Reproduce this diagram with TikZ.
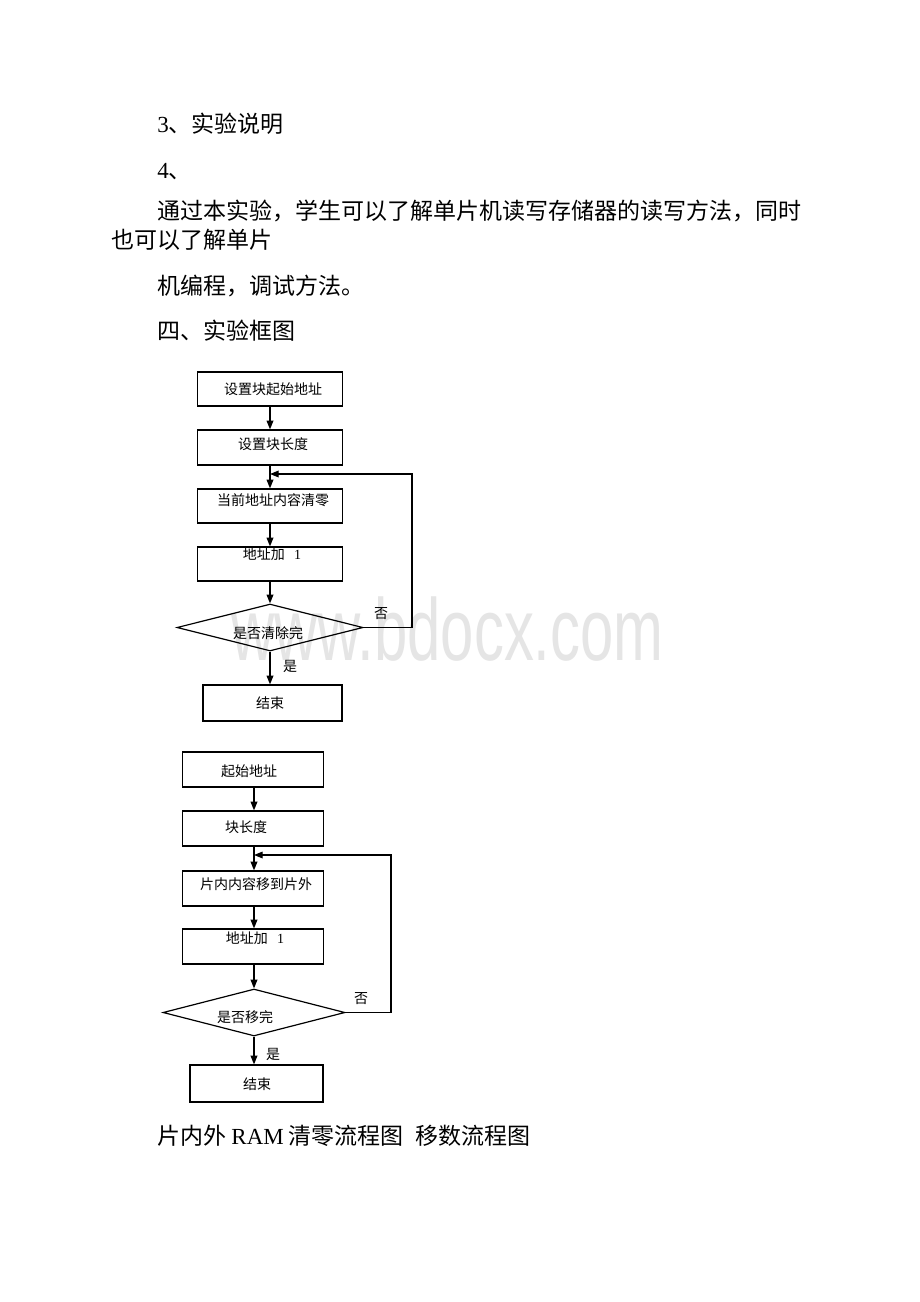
\documentclass[tikz,border=0pt]{standalone}
\usepackage{fontspec}
\setmainfont{Liberation Serif}
\newfontfamily\cjk{Noto Sans CJK SC}
\newfontfamily\wmfont{Liberation Sans}
\usetikzlibrary{shapes.geometric,arrows.meta}
\def\px{*0.75pt}
\begin{document}
\begin{tikzpicture}[x=0.75pt,y=-0.75pt,
  body/.style={anchor=west,inner sep=0pt,text height=0.88em,text depth=0.12em,font=\fontsize{17.25}{20}\selectfont\cjk},
  box/.style={draw,line width=1.2\px,minimum width=145\px,minimum height=34\px,inner sep=0pt},
  dia/.style={draw,diamond,line width=1.2\px,inner sep=0pt,aspect=4},
  lbl/.style={inner sep=0pt,text height=0.88em,text depth=0.12em,font=\fontsize{10.5}{12}\selectfont\cjk},
  arr/.style={line width=1.2\px,-{Triangle[length=6.5pt,width=5pt]}},
  wm/.style={anchor=base,inner sep=0pt,text=black!10,font=\fontsize{66}{70}\selectfont\wmfont}]
\useasboundingbox (0,0) rectangle (920,1302);
\fill[white] (0,0) rectangle (920,1302);
% watermark
\node[wm] (wm) at (447.5,660) {\scalebox{0.68}[1]{www.bdocx.com}};
% body text
\node[body] (p1) at (157,127.5) {{\rmfamily 3}、实验说明};
\node[body] (p2) at (157,173) {{\rmfamily 4}、};
\node[body] (p3) at (157,214.5) {通过本实验，学生可以了解单片机读写存储器的读写方法，同时};
\node[body] (p4) at (111,243.5) {也可以了解单片};
\node[body] (p5) at (157,289.5) {机编程，调试方法。};
\node[body] (p6) at (157,334.5) {四、实验框图};
\node[body] (cap) at (157,1139.5) {片内外 {\rmfamily RAM} 清零流程图\hspace{9pt}移数流程图};
% flowchart 1
\node[box] (a1) at (270,389) {};
\node[lbl] (t1) at (273,389) {设置块起始地址};
\node[box,minimum height=35\px] (a2) at (270,447.5) {};
\node[lbl] (t2) at (273,444) {设置块长度};
\node[box] (a3) at (270,506) {};
\node[lbl] (t3) at (273,500) {当前地址内容清零};
\node[box] (a4) at (270,564) {};
\node[lbl] (t4) at (272,554) {地址加\hspace{7pt}{\rmfamily 1}};
\node[dia,minimum width=186\px,minimum height=47\px] (d1) at (270,627.5) {};
\node[lbl] (t5) at (268,633) {是否清除完};
\node[box,minimum width=139\px,minimum height=36\px] (a5) at (272.5,703) {};
\node[lbl] (t6) at (270,703) {结束};
\node[lbl] (y1) at (290,666) {是};
\node[lbl] (n1) at (381,613) {否};
\coordinate (r1) at (412,474);
\coordinate (m1) at (270,474);
\draw[arr] (a1.south) -- (a2.north);
\draw[arr] (a2.south) -- (a3.north);
\draw[arr] (a3.south) -- (a4.north);
\draw[arr] (a4.south) -- (d1.north);
\draw[arr] (d1.south) -- (d1.south |- a5.north);
\draw[arr] (d1.east) -- (d1.east -| r1) -- (r1) -- (m1);
% flowchart 2
\node[box,minimum width=141\px,minimum height=35\px] (b1) at (253,769.5) {};
\node[lbl] (s1) at (249,771) {起始地址};
\node[box,minimum width=141\px,minimum height=35\px] (b2) at (253,828.5) {};
\node[lbl] (s2) at (246,827) {块长度};
\node[box,minimum width=141\px,minimum height=35\px] (b3) at (253,888.5) {};
\node[lbl] (s3) at (256,884) {片内内容移到片外};
\node[box,minimum width=141\px,minimum height=35\px] (b4) at (253,946.5) {};
\node[lbl] (s4) at (255,938) {地址加\hspace{7pt}{\rmfamily 1}};
\node[dia,minimum width=182\px,minimum height=47\px] (d2) at (254,1012.5) {};
\node[lbl] (s5) at (245,1017) {是否移完};
\node[box,minimum width=133\px,minimum height=37\px] (b5) at (256.5,1083.5) {};
\node[lbl] (s6) at (257,1084) {结束};
\node[lbl] (y2) at (273,1054) {是};
\node[lbl] (n2) at (361,998) {否};
\coordinate (r2) at (391,855);
\coordinate (m2) at (254,855);
\draw[arr] (b1.south -| d2.north) -- (b2.north -| d2.north);
\draw[arr] (b2.south -| d2.north) -- (b3.north -| d2.north);
\draw[arr] (b3.south -| d2.north) -- (b4.north -| d2.north);
\draw[arr] (b4.south -| d2.north) -- (d2.north);
\draw[arr] (d2.south) -- (d2.south |- b5.north);
\draw[arr] (d2.east) -- (d2.east -| r2) -- (r2) -- (m2);
\end{tikzpicture}
\end{document}
